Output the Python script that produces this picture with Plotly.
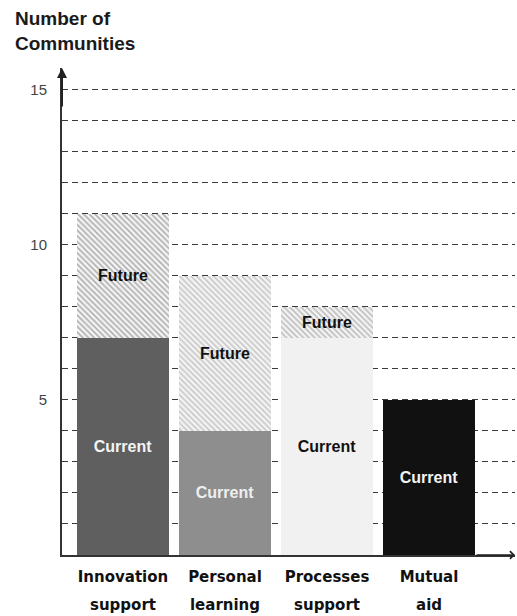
import plotly.graph_objects as go

# Community types and counts (current vs. planned additions)
categories = ["Innovation<br>support", "Personal<br>learning", "Processes<br>support", "Mutual<br>aid"]
current = [7, 4, 7, 5]
future = [4, 5, 1, None]
y_ticks = [5, 10, 15]

current_colors = ["#5f5f5f", "#8e8e8e", "#f1f1f1", "#111111"]
current_text_colors = ["#f4f4f4", "#eeeeee", "#111111", "#f4f4f4"]
hatch_colors = ["#6a6a6a", "#9a9a9a", "#858585", "#858585"]

xpos = list(range(len(categories)))

fig = go.Figure()
fig.add_trace(go.Bar(
    x=xpos, y=current, width=0.9,
    marker=dict(color=current_colors, line=dict(width=0)),
    text=["<b>Current</b>" if v else "" for v in current],
    textposition="inside", insidetextanchor="middle",
    textfont=dict(family="Liberation Sans, Arial", size=16, color=current_text_colors),
    hoverinfo="skip",
))
fig.add_trace(go.Bar(
    x=xpos, y=future, width=0.9,
    marker=dict(
        color="#f4f4f4",
        line=dict(width=0),
        pattern=dict(shape="\\", fgcolor=hatch_colors, bgcolor="#f4f4f4", size=4, solidity=0.4),
    ),
    text=["<b>Future</b>" if v else "" for v in future],
    textposition="inside", insidetextanchor="middle",
    textfont=dict(family="Liberation Sans, Arial", size=16, color="#111111"),
    hoverinfo="skip",
))

tick_font_outer = 21
ticktext = [
    "<br>".join(f"<span style='font-size:15px'><b>{part}</b></span>" for part in c.split("<br>"))
    for c in categories
]

fig.update_layout(
    barmode="stack",
    showlegend=False,
    width=517, height=616,
    margin=dict(l=62, r=2, t=68, b=57),
    paper_bgcolor="white", plot_bgcolor="white",
    uniformtext=dict(minsize=16, mode="show"),
    xaxis=dict(
        range=[-0.598, 3.843],
        tickvals=xpos, ticktext=ticktext,
        tickfont=dict(family="Comic Sans MS, DejaVu Sans", size=tick_font_outer, color="#111"),
        showgrid=False, zeroline=False,
        showline=True, linecolor="#333", linewidth=2,
        ticks="",
    ),
    yaxis=dict(
        range=[0, 15.7],
        tickvals=y_ticks,
        tickfont=dict(family="Liberation Sans, Arial", size=15, color="#444"),
        showgrid=True, gridcolor="#3a3a3a", gridwidth=1.3, griddash="6px,4px",
        minor=dict(dtick=1, tick0=0, showgrid=True, gridcolor="#3a3a3a", gridwidth=1.3, griddash="6px,4px"),
        zeroline=False,
        showline=True, linecolor="#333", linewidth=2,
        ticks="", ticklabelstandoff=10,
    ),
)

# Axis title in the top-left corner
fig.add_annotation(
    text="<b>Number of<br>Communities</b>",
    xref="paper", yref="paper", x=-49 / 453, y=1 + 63 / 491,
    xanchor="left", yanchor="top", align="left", showarrow=False,
    font=dict(family="Liberation Sans, Arial", size=19, color="#1a1a1a"),
)

# Arrowheads on the ends of both axes
fig.add_annotation(x=0, y=1, xref="paper", yref="paper", ax=0, ay=40,
                   showarrow=True, arrowhead=2, arrowsize=1, arrowwidth=2,
                   arrowcolor="#222", text="")
fig.add_annotation(x=1, y=0, xref="paper", yref="paper", ax=-40, ay=0,
                   showarrow=True, arrowhead=4, arrowsize=1, arrowwidth=1.5,
                   arrowcolor="#222", text="")

fig.write_html("out.html")
